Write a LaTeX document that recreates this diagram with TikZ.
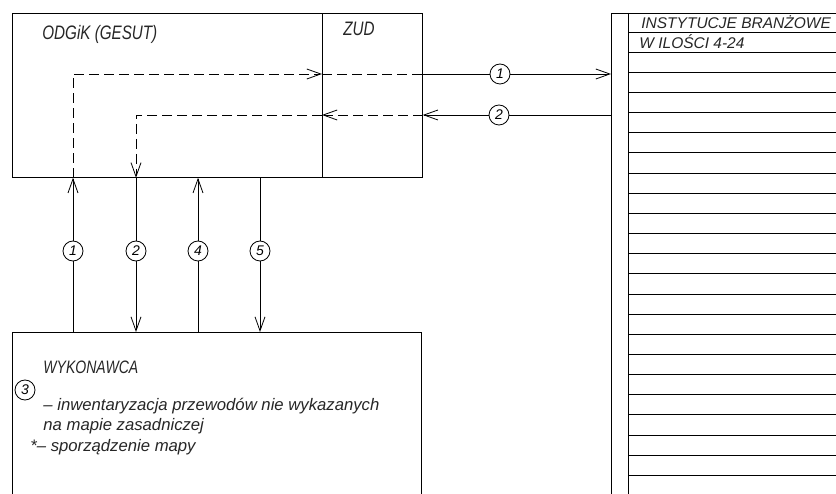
\documentclass[tikz,border=0pt]{standalone}
\usepackage{fontspec}
\setmainfont{Liberation Sans}
\newfontfamily\capsfont{Liberation Sans}[FakeStretch=0.78]
\usetikzlibrary{arrows.meta,positioning}

\begin{document}
\begin{tikzpicture}[
  x=1pt,y=-1pt,
  >={Straight Barb[length=14pt,width=10pt]},
  line width=0.8pt,
  font=\fontsize{16.7}{20}\selectfont\itshape,
  box/.style={rectangle,draw,anchor=north west,inner sep=0pt},
  num/.style={circle,draw,fill=white,minimum size=20pt,inner sep=0pt,
    font=\fontsize{14}{14}\selectfont\itshape},
  dashflow/.style={dash pattern=on 10pt off 5pt},
  lbl/.style={anchor=base west,inner sep=0pt,text=black!85},
  caps/.style={lbl,font=\capsfont\fontsize{18}{20}\selectfont\itshape}
]
\clip (0,0) rectangle (836,494);
% boxes
\node[box,minimum width=310pt,minimum height=164pt] (odgik) at (12,13) {};
\node[box,minimum width=100pt,minimum height=164pt] (zud) at (322,13) {};
\node[box,minimum width=409pt,minimum height=200pt] (wyk) at (12,332) {};
\node[box,minimum width=260pt,minimum height=500pt] (inst) at (611,13) {};
\coordinate (instin) at (628,13);
\draw (instin) -- (instin |- wyk.south);
% rows of the list
\foreach \i in {0,...,22}{
  \draw (628,{32+20.15*\i}) -- (836,{32+20.15*\i});
}
% labels
\node[caps,font=\capsfont\fontsize{19.5}{20}\selectfont\itshape] (odgikl) at (42,40) {ODGiK (GESUT)};
\node[caps,font=\capsfont\fontsize{19.5}{20}\selectfont\itshape] (zudl) at (343,36) {ZUD};
\node[lbl,font=\fontsize{15.5}{18}\selectfont\itshape] (instl) at (641,29) {INSTYTUCJE BRANŻOWE};
\node[lbl,font=\fontsize{15.5}{18}\selectfont\itshape] (instl2) at (639,49) {W ILOŚCI 4-24};
\node[caps] (wykl) at (43,374) {WYKONAWCA};
\node[num,fill=none] (n3) at (25,390) {3};
\node[lbl] (t1) at (43,411) {– inwentaryzacja przewodów nie wykazanych};
\node[lbl] (t2) at (43,431) {na mapie zasadniczej};
\node[lbl] (t3) at (30,452) {*– sporządzenie mapy};
% circled numbers
\node[num] (h1) at (500,74) {1};
\node[num] (h2) at (499,115) {2};
\foreach \n/\x in {1/73,2/136,4/198,5/260}{
  \node[num] (v\n) at (\x,251) {\n};
}
% ODGiK -> ZUD -> instytucje
\draw[dashflow,->] (v1 |- odgik.south) |- (zud.west |- h1);
\draw[dashflow] (zud.west |- h1) -- (zud.east |- h1);
\draw (zud.east |- h1) -- (h1);
\draw[->] (h1) -- (inst.west |- h1);
% instytucje -> ZUD -> ODGiK
\draw (inst.west |- h2) -- (h2);
\draw[->] (h2) -- (zud.east |- h2);
\draw[dashflow,->] (zud.east |- h2) -- (zud.west |- h2);
\draw[dashflow,->] (zud.west |- h2) -| (v2 |- odgik.south);
% ODGiK <-> wykonawca
\draw[->] (v1) -- (v1 |- odgik.south);
\draw (v1) -- (v1 |- wyk.north);
\draw (v2 |- odgik.south) -- (v2);
\draw[->] (v2) -- (v2 |- wyk.north);
\draw[->] (v4) -- (v4 |- odgik.south);
\draw (v4) -- (v4 |- wyk.north);
\draw (v5 |- odgik.south) -- (v5);
\draw[->] (v5) -- (v5 |- wyk.north);
\end{tikzpicture}
\end{document}
